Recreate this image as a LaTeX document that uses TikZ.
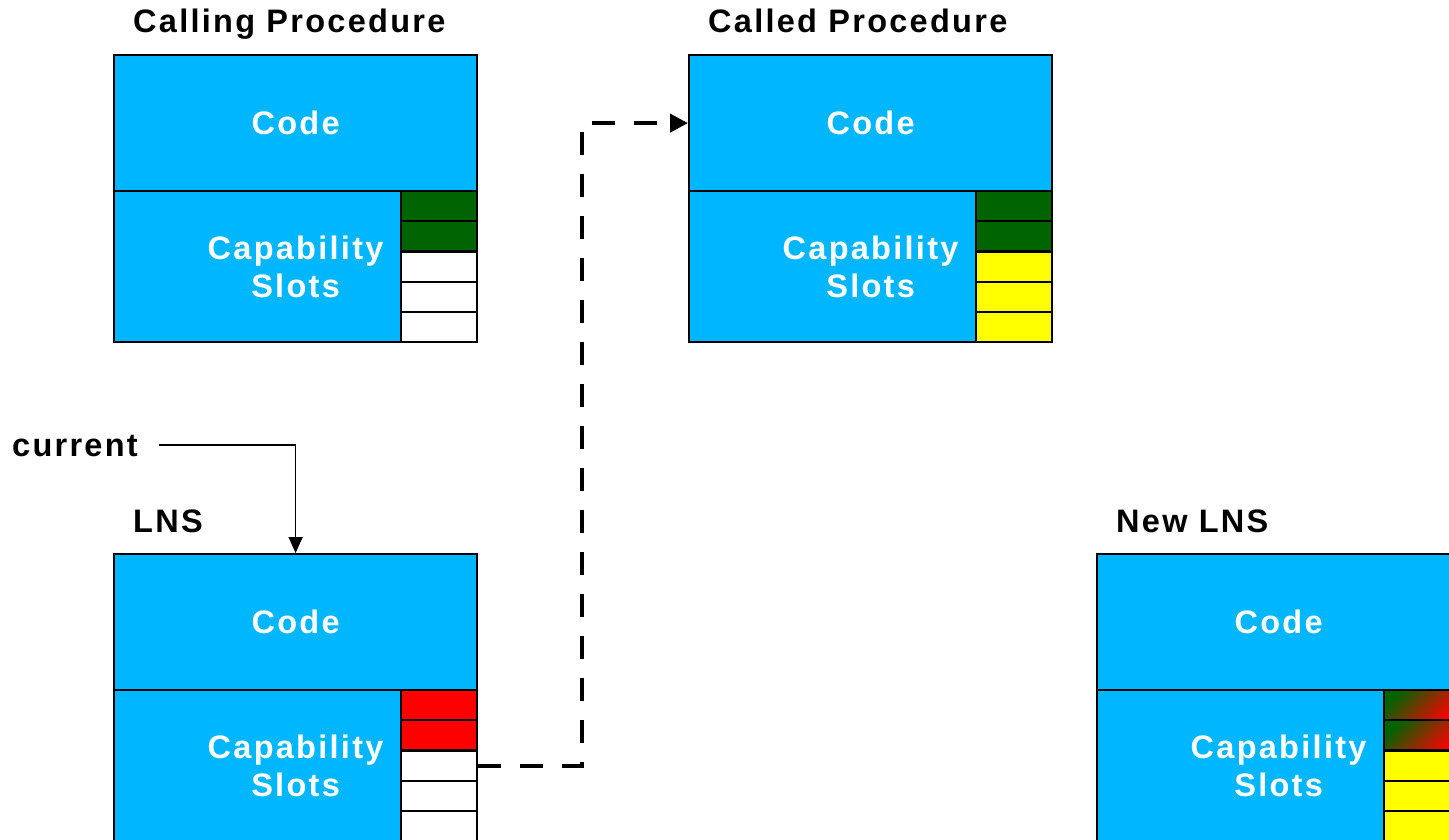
\documentclass[tikz,border=0pt]{standalone}
\usepackage{fontspec}
\newfontfamily\lblfont{Liberation Sans}[LetterSpace=7]
\usetikzlibrary{arrows.meta}
\definecolor{capblue}{RGB}{0,183,255}
\definecolor{slotgreen}{RGB}{0,100,0}
\definecolor{slotred}{RGB}{255,0,0}
\definecolor{slotyellow}{RGB}{255,255,0}
\tikzset{
  lbl/.style={font=\lblfont\bfseries\fontsize{32.5}{38}\selectfont},
  codebox/.style={draw=black,line width=2.2pt,fill=capblue,text=white,lbl,minimum width=363pt,minimum height=136pt,anchor=north west,inner sep=0},
  slotbox/.style={draw=black,line width=2.2pt,fill=capblue,text=white,lbl,minimum width=363pt,minimum height=151pt,anchor=north west,inner sep=0,align=center},
  cell/.style={draw=black,line width=2.2pt,minimum width=76pt,minimum height=30.2pt,anchor=north west,inner sep=0},
  title/.style={lbl,anchor=base west,inner sep=0},
  gradcell/.style={cell,top color=slotgreen,bottom color=slotred,shading angle=45},
  thinarrow/.style={line width=1.5pt,-{Triangle[length=16pt,width=14pt]}},
  dasharrow/.style={line width=4pt,dash pattern=on 23pt off 19pt,-{Triangle[length=18pt,width=18pt]}}
}
\begin{document}
\begin{tikzpicture}[x=1pt,y=-1pt]
\useasboundingbox (0,0) rectangle (1449,840);
% Calling procedure
\node[title] (t1) at (133,33) {Calling Procedure};
\node[codebox] (cpcode) at (113,54) {Code};
\node[slotbox] (cpslots) at (113,190) {Capability\\Slots};
\foreach \i/\c in {1/slotgreen,2/slotgreen,3/white,4/white,5/white}
  \node[cell,fill=\c] (cp\i) at (400,{190+(\i-1)*30.2}) {};
% Called procedure
\node[title] (t2) at (708,33) {Called Procedure};
\node[codebox] (cdcode) at (688,54) {Code};
\node[slotbox] (cdslots) at (688,190) {Capability\\Slots};
\foreach \i/\c in {1/slotgreen,2/slotgreen,3/slotyellow,4/slotyellow,5/slotyellow}
  \node[cell,fill=\c] (cd\i) at (975,{190+(\i-1)*30.2}) {};
% LNS
\node[title] (t3) at (133,532) {LNS};
\node[codebox] (lnscode) at (113,553) {Code};
\node[slotbox] (lnsslots) at (113,689) {Capability\\Slots};
\foreach \i/\c in {1/slotred,2/slotred,3/white,4/white,5/white}
  \node[cell,fill=\c] (lns\i) at (400,{689+(\i-1)*30.2}) {};
% New LNS
\node[title] (t4) at (1116,532) {New LNS};
\node[codebox] (nlcode) at (1096,553) {Code};
\node[slotbox] (nlslots) at (1096,689) {Capability\\Slots};
\node[gradcell] (nl1) at (1383,689) {};
\node[gradcell] (nl2) at (1383,719.2) {};
\foreach \i in {3,4,5}
  \node[cell,fill=slotyellow] (nl\i) at (1383,{689+(\i-1)*30.2}) {};
% current pointer
\node[title] (cur) at (12,456) {current};
\draw[thinarrow] ([xshift=21pt]cur.east |- 0,445) -| (lnscode.north);
% dashed connector
\coordinate (mid) at (582,0);
\draw[dasharrow] (lns3.east) -- (lns3.east -| mid) -- (mid |- cdcode.west) -- (cdcode.west);
\end{tikzpicture}
\end{document}
